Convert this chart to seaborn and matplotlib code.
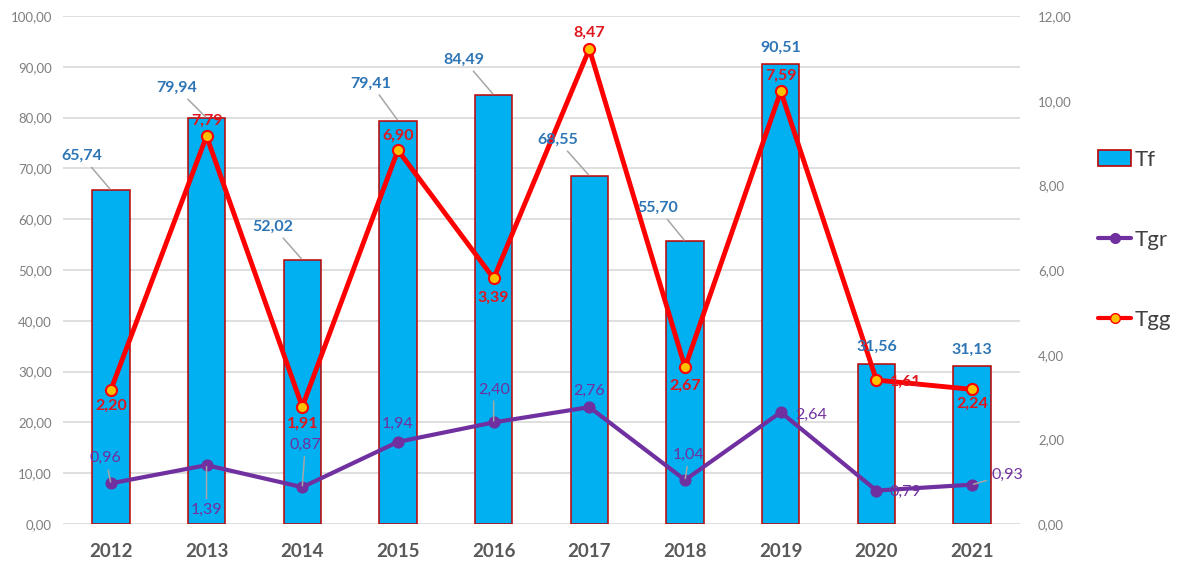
import numpy as np
import pandas as pd
import matplotlib
matplotlib.use("Agg")
import matplotlib.pyplot as plt
import seaborn as sns
from matplotlib.patches import Patch
from matplotlib.lines import Line2D

# ---------------- data ----------------
years = ["2012", "2013", "2014", "2015", "2016", "2017", "2018", "2019", "2020", "2021"]
tf = [65.74, 79.94, 52.02, 79.41, 84.49, 68.55, 55.70, 90.51, 31.56, 31.13]
tgr = [0.96, 1.39, 0.87, 1.94, 2.40, 2.76, 1.04, 2.64, 0.79, 0.93]
tgg = [2.20, 7.79, 1.91, 6.90, 3.39, 8.47, 2.67, 7.59, 1.61, 2.24]
# heights at which the Tgg points are drawn in the picture (right axis)
tgg_plotted = [3.17, 9.16, 2.77, 8.83, 5.80, 11.22, 3.70, 10.22, 3.40, 3.18]
left_ticks = [0, 10, 20, 30, 40, 50, 60, 70, 80, 90, 100]
right_ticks = [0, 2, 4, 6, 8, 10, 12]
series_names = ["Tf", "Tgr", "Tgg"]

# ---------------- label layout (pixel offsets, leader flag) ----------------
tf_offsets = [(-29, 34, True), (-30, 30, True), (-29, 33, True), (-27, 37, True),
              (-30, 35, True), (-32, 36, True), (-27, 33, True), (0, 16, False),
              (0, 17, False), (0, 16, False)]
tgr_offsets = [(-5, 25, True), (0, -45, True), (3, 42, True), (0, 18, False),
               (0, 33, True), (0, 16, False), (4, 25, True), (30, -3, False),
               (29, -1, False), (35, 10, True)]
tgg_offsets = [(0, -16, False), (0, 15, False), (0, -17, False), (0, 14, False),
               (0, -19, False), (0, 16, False), (0, -18, False), (0, 16, False),
               (29, -2, False), (0, -14, False)]

BAR_FILL = "#00B0F0"
BAR_EDGE = "#C00000"
PURPLE = "#7030A0"
RED = "#FF0000"
YELLOW = "#FFC000"
BLUE_TXT = "#2E75B6"
RED_TXT = "#E0161E"
GRID = "#D9D9D9"


def fmt(v):
    return f"{v:.2f}".replace(".", ",")


sns.set_theme(style="white")
plt.rcParams["font.family"] = ["Lato", "DejaVu Sans"]

W, H = 1180, 564
fig = plt.figure(figsize=(W / 100, H / 100), dpi=100)
ax = fig.add_axes([63 / W, 1 - 524 / H, (1020 - 63) / W, (524 - 16) / H])

df = pd.DataFrame({"year": years, "Tf": tf, "Tgr": tgr, "Tgg": tgg_plotted})
df["pos"] = np.arange(len(years))

sns.barplot(data=df, x="year", y="Tf", ax=ax, color=BAR_FILL, saturation=1,
            width=0.39, edgecolor=BAR_EDGE, linewidth=1.1, zorder=2)
ax.set_xlim(-0.5, len(years) - 0.5)
ax.set_ylim(0, 100)
ax.set_yticks(left_ticks)
ax.set_yticklabels([fmt(v) for v in left_ticks])
ax.yaxis.grid(True, color=GRID, lw=1.2)
ax.set_axisbelow(True)
ax.set_xlabel("")
ax.set_ylabel("")
ax.tick_params(axis="y", length=0, pad=8, labelsize=9.5, labelcolor="#7F7F7F")
ax.tick_params(axis="x", length=0, pad=14, labelsize=13.5, labelcolor="#595959")
for t in ax.get_xticklabels():
    t.set_fontweight("bold")
for s in ax.spines.values():
    s.set_visible(False)

ax2 = ax.twinx()
sns.lineplot(data=df, x="pos", y="Tgr", ax=ax2, color=PURPLE, lw=3,
             marker="o", markersize=8, markerfacecolor=PURPLE,
             markeredgecolor=PURPLE, legend=False, zorder=3)
sns.lineplot(data=df, x="pos", y="Tgg", ax=ax2, color=RED, lw=3.5,
             marker="o", markersize=8, markerfacecolor=YELLOW,
             markeredgecolor=RED, markeredgewidth=1.5, legend=False, zorder=4)
ax2.set_ylim(0, 12)
ax2.set_xlim(-0.5, len(years) - 0.5)
ax2.set_yticks(right_ticks)
ax2.set_yticklabels([fmt(v) for v in right_ticks])
ax2.tick_params(axis="y", length=0, pad=13, labelsize=9.5, labelcolor="#7F7F7F")
ax2.set_ylabel("")
ax2.set_xlabel("")
ax2.grid(False)
for s in ax2.spines.values():
    s.set_visible(False)


def put_label(src_ax, x, y, text, off, color, weight):
    dx, dy, leader = off
    arrow = dict(arrowstyle="-", color="#A6A6A6", lw=1.1, shrinkA=1, shrinkB=1) if leader else None
    ax2.annotate(text, xy=(x, y), xycoords=src_ax.transData, xytext=(dx, dy),
                 textcoords="offset pixels", ha="center", va="center",
                 color=color, fontsize=11.5, fontweight=weight,
                 arrowprops=arrow, zorder=6, annotation_clip=False)


for i in range(len(years)):
    put_label(ax, i, tf[i], fmt(tf[i]), tf_offsets[i], BLUE_TXT, "bold")
    put_label(ax2, i, tgr[i], fmt(tgr[i]), tgr_offsets[i], PURPLE, "normal")
    put_label(ax2, i, tgg_plotted[i], fmt(tgg[i]), tgg_offsets[i], RED_TXT, "bold")

handles = [
    Patch(facecolor=BAR_FILL, edgecolor=BAR_EDGE, linewidth=1.2),
    Line2D([], [], color=PURPLE, lw=3, marker="o", markersize=7,
           markerfacecolor=PURPLE, markeredgecolor=PURPLE),
    Line2D([], [], color=RED, lw=3, marker="o", markersize=7,
           markerfacecolor=YELLOW, markeredgecolor=RED),
]
fig.legend(handles, series_names, loc="center left",
           bbox_to_anchor=(1098 / W, 1 - 240 / H), frameon=False, fontsize=16,
           labelspacing=2.7, handlelength=1.5, handletextpad=0.15,
           borderpad=0, borderaxespad=0, labelcolor="#404040")

fig.savefig("out.png", dpi=100)
